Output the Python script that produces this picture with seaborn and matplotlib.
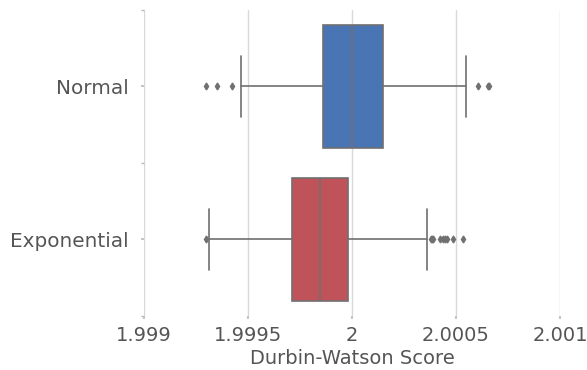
import seaborn as sns
import matplotlib.pyplot as plt

# valeurs (stats des boites)
categories = ["Normal", "Exponential"]
whisker_low = [1.999465, 1.999312]
q1 = [1.999862, 1.999710]
medians = [2.000000, 1.999848]
q3 = [2.000149, 1.999979]
whisker_high = [2.000548, 2.000361]
outliers_normal = [1.999301, 1.999353, 1.999426, 2.000604, 2.000652, 2.000659]
outliers_expo = [1.999298, 2.000378, 2.000385, 2.000391, 2.000423, 2.000440,
                 2.000447, 2.000457, 2.000487, 2.000534]
colors = ["#4A75B5", "#C0525A"]

xticks = [1.999, 1.9995, 2.0, 2.0005, 2.001]
xticklabels = ["1.999", "1.9995", "2", "2.0005", "2.001"]


def stats_boites():
    fliers = [outliers_normal, outliers_expo]
    stats = []
    for i, cat in enumerate(categories):
        stats.append({
            "label": cat,
            "whislo": whisker_low[i],
            "q1": q1[i],
            "med": medians[i],
            "q3": q3[i],
            "whishi": whisker_high[i],
            "fliers": fliers[i],
        })
    return stats


def main():
    sns.set_theme(style="whitegrid")
    fig, ax = plt.subplots(figsize=(5.87, 3.70), dpi=100)
    fig.subplots_adjust(left=0.245, right=0.954, top=0.973, bottom=0.146)

    gris = "#707070"
    texte = "#555555"
    bp = ax.bxp(stats_boites(), positions=[0, 1], widths=0.8, vert=False,
                patch_artist=True,
                boxprops=dict(edgecolor=gris, linewidth=1.2),
                medianprops=dict(color=gris, linewidth=1.2),
                whiskerprops=dict(color=gris, linewidth=1.2),
                capprops=dict(color=gris, linewidth=1.2),
                flierprops=dict(marker="d", markersize=3.5, markerfacecolor=gris,
                                markeredgecolor=gris, linestyle="none"))
    for patch, c in zip(bp["boxes"], colors):
        patch.set_facecolor(c)

    ax.set_ylim(1.5, -0.5)
    ax.set_yticks([0, 1])
    ax.set_yticklabels(categories)
    ax.set_yticks([-0.5, 0.5, 1.5], minor=True)
    ax.set_xlim(1.999, 2.001)
    ax.set_xticks(xticks)
    ax.set_xticklabels(xticklabels)
    ax.set_xlabel("Durbin-Watson Score", fontsize=14, color=texte, labelpad=3)

    ax.grid(axis="x", color="#d9d9d9", linewidth=1)
    ax.grid(axis="y", which="both", visible=False)
    for s in ax.spines.values():
        s.set_visible(False)
    ax.tick_params(axis="both", labelsize=14, labelcolor=texte,
                   length=2, color="#bbbbbb")
    ax.tick_params(axis="y", which="both", left=True, length=2, color="#bbbbbb")
    ax.tick_params(axis="x", bottom=True)
    ax.tick_params(axis="y", pad=9)
    ax.tick_params(axis="x", pad=5)
    for lab in ax.get_yticklabels():
        lab.set_fontsize(14.4)

    fig.savefig("out.png")


if __name__ == '__main__':
    main()
